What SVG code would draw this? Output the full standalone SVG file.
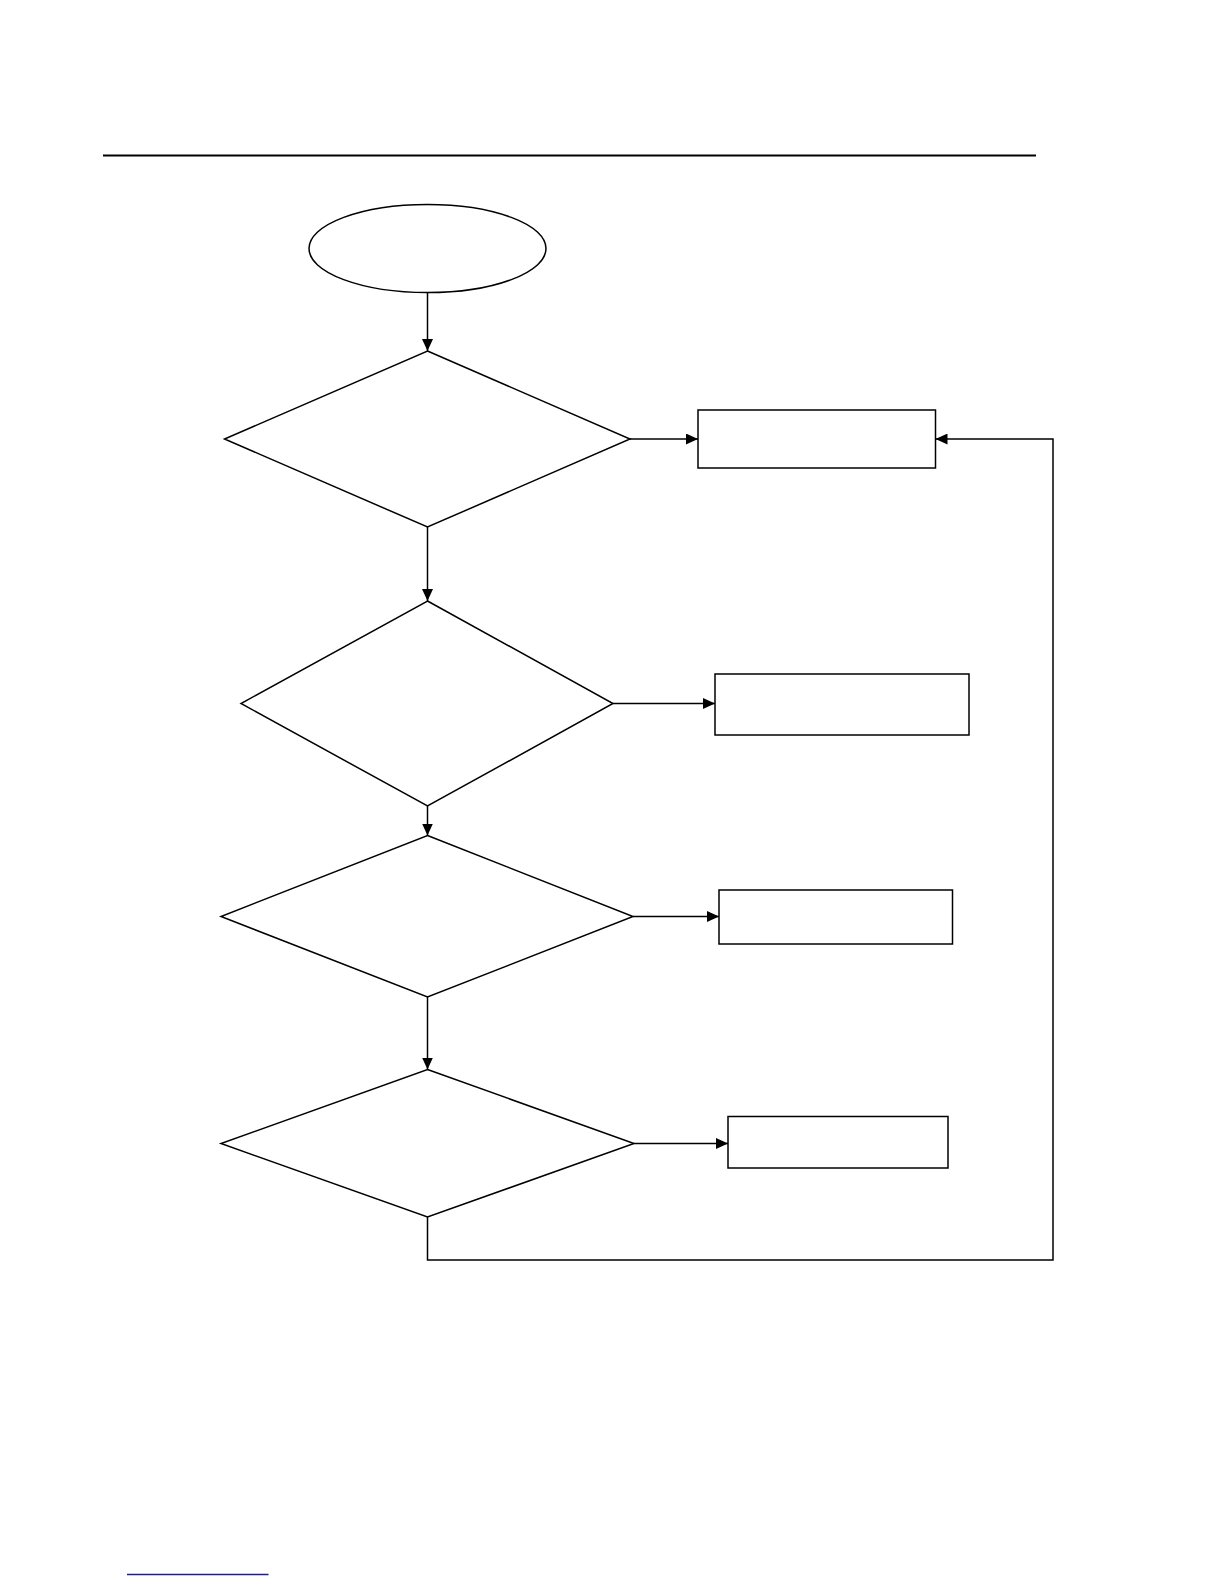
<svg xmlns="http://www.w3.org/2000/svg" width="1224" height="1584" viewBox="0 0 1224 1584">
<style>
.shape{fill:#fff;stroke:#000;stroke-width:1.5}
.conn{fill:none;stroke:#000;stroke-width:1.5}
</style>
<defs>
<marker id="arr" markerUnits="userSpaceOnUse" markerWidth="13" markerHeight="11" viewBox="0 0 13 11" refX="12" refY="5.5" orient="auto">
<path d="M0,0 L12,5.5 L0,11 z" fill="#000"/>
</marker>
</defs>
<rect width="1224" height="1584" fill="#fff"/>
<line x1="103" y1="155.5" x2="1036" y2="155.5" stroke="#000" stroke-width="2"/>
<line x1="127" y1="1574.5" x2="268.5" y2="1574.5" stroke="#1c1c96" stroke-width="1.4"/>
<g id="connectors">
<line class="conn" x1="427.5" y1="292.5" x2="427.5" y2="351" marker-end="url(#arr)"/>
<line class="conn" x1="630" y1="439" x2="698" y2="439" marker-end="url(#arr)"/>
<line class="conn" x1="427.5" y1="527" x2="427.5" y2="601" marker-end="url(#arr)"/>
<line class="conn" x1="613" y1="703.5" x2="715" y2="703.5" marker-end="url(#arr)"/>
<line class="conn" x1="427.5" y1="806" x2="427.5" y2="835.5" marker-end="url(#arr)"/>
<line class="conn" x1="633" y1="916.5" x2="719" y2="916.5" marker-end="url(#arr)"/>
<line class="conn" x1="427.5" y1="997" x2="427.5" y2="1069.5" marker-end="url(#arr)"/>
<line class="conn" x1="634" y1="1143.5" x2="728" y2="1143.5" marker-end="url(#arr)"/>
<polyline class="conn" points="427.5,1217 427.5,1260 1053,1260 1053,439 935.5,439" marker-end="url(#arr)"/>
</g>
<g id="start"><ellipse class="shape" cx="427.5" cy="248.5" rx="118.5" ry="44"/></g>
<g id="decision1"><polygon class="shape" points="427.5,351 630,439 427.5,527 224.5,439"/></g>
<g id="box1"><rect class="shape" x="698" y="410" width="237.5" height="58"/></g>
<g id="decision2"><polygon class="shape" points="427.5,601 613,703.5 427.5,806 241,703.5"/></g>
<g id="box2"><rect class="shape" x="715" y="674" width="254" height="61"/></g>
<g id="decision3"><polygon class="shape" points="427.5,835.5 633,916.5 427.5,997 221,916.5"/></g>
<g id="box3"><rect class="shape" x="719" y="890" width="233.5" height="54"/></g>
<g id="decision4"><polygon class="shape" points="427.5,1069.5 634,1143.5 427.5,1217 221,1143.5"/></g>
<g id="box4"><rect class="shape" x="728" y="1116.5" width="220" height="51.5"/></g>
</svg>
